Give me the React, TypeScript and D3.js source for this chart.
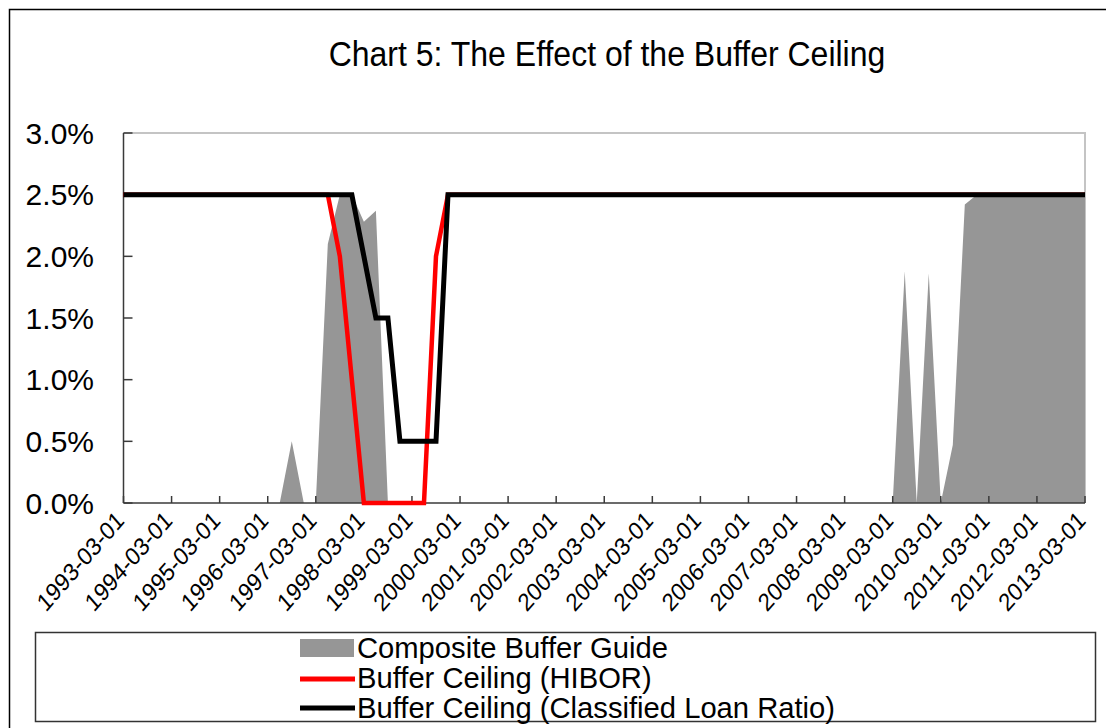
import React from "react";
import * as d3 from "d3";

// Quarterly categories 1993-03-01 .. 2013-03-01 (81 quarters)
const years = d3.range(1993, 2014);
const months = ["03", "06", "09", "12"];
const categories: string[] = years.flatMap((yr) =>
  months.map((m) => `${yr}-${m}-01`)
).filter((c) => c <= "2013-03-01");

// Tick labels (every 4th quarter)
const tickLabels = [
  "1993-03-01", "1994-03-01", "1995-03-01", "1996-03-01", "1997-03-01",
  "1998-03-01", "1999-03-01", "2000-03-01", "2001-03-01", "2002-03-01",
  "2003-03-01", "2004-03-01", "2005-03-01", "2006-03-01", "2007-03-01",
  "2008-03-01", "2009-03-01", "2010-03-01", "2011-03-01", "2012-03-01",
  "2013-03-01",
];

const yTicks = [0, 0.5, 1.0, 1.5, 2.0, 2.5, 3.0];

// Composite Buffer Guide (%)
const compositeGuide = [
  0, 0, 0, 0, 0, 0, 0, 0, 0, 0, 0, 0, 0, 0, // 1993Q1-1996Q2
  0.5, 0, 0, 2.1, 2.5, 2.5, 2.28, 2.37, // 1996Q3-1998Q2
  0, 0, 0, 0, 0, 0, 0, 0, 0, 0, 0, 0, 0, 0, 0, 0, 0, 0, 0, 0, 0, 0,
  0, 0, 0, 0, 0, 0, 0, 0, 0, 0, 0, 0, 0, 0, 0, 0, 0, 0, 0, 0, 0, // to 2009Q1
  1.88, 0, 1.86, 0, 0.47, 2.42,
  2.5, 2.5, 2.5, 2.5, 2.5, 2.5, 2.5, 2.5, 2.5, 2.5,
];

// Buffer Ceiling (HIBOR) (%)
const ceilingHibor = [
  2.5, 2.5, 2.5, 2.5, 2.5, 2.5, 2.5, 2.5, 2.5, 2.5, 2.5, 2.5, 2.5, 2.5,
  2.5, 2.5, 2.5, 2.5,
  2.0, 1.0, 0, 0, 0, 0, 0, 0, 2.0,
  2.5, 2.5, 2.5, 2.5, 2.5, 2.5, 2.5, 2.5, 2.5, 2.5, 2.5, 2.5, 2.5, 2.5,
  2.5, 2.5, 2.5, 2.5, 2.5, 2.5, 2.5, 2.5, 2.5, 2.5, 2.5, 2.5, 2.5, 2.5,
  2.5, 2.5, 2.5, 2.5, 2.5, 2.5, 2.5, 2.5, 2.5, 2.5, 2.5, 2.5, 2.5, 2.5,
  2.5, 2.5, 2.5, 2.5, 2.5, 2.5, 2.5, 2.5, 2.5, 2.5, 2.5, 2.5,
];

// Buffer Ceiling (Classified Loan Ratio) (%)
const ceilingClr = [
  2.5, 2.5, 2.5, 2.5, 2.5, 2.5, 2.5, 2.5, 2.5, 2.5, 2.5, 2.5, 2.5, 2.5,
  2.5, 2.5, 2.5, 2.5, 2.5, 2.5,
  2.0, 1.5, 1.5, 0.5, 0.5, 0.5, 0.5,
  2.5, 2.5, 2.5, 2.5, 2.5, 2.5, 2.5, 2.5, 2.5, 2.5, 2.5, 2.5, 2.5, 2.5,
  2.5, 2.5, 2.5, 2.5, 2.5, 2.5, 2.5, 2.5, 2.5, 2.5, 2.5, 2.5, 2.5, 2.5,
  2.5, 2.5, 2.5, 2.5, 2.5, 2.5, 2.5, 2.5, 2.5, 2.5, 2.5, 2.5, 2.5, 2.5,
  2.5, 2.5, 2.5, 2.5, 2.5, 2.5, 2.5, 2.5, 2.5, 2.5, 2.5, 2.5,
];

const seriesNames = [
  "Composite Buffer Guide",
  "Buffer Ceiling (HIBOR)",
  "Buffer Ceiling (Classified Loan Ratio)",
];

const FONT = "'Liberation Sans', Arial, sans-serif";

export default function App() {
  const W = 1106;
  const H = 728;
  const left = 123.5;
  const right = 1085;
  const top = 133;
  const bottom = 503;

  const x = d3.scalePoint<string>().domain(categories).range([left, right]);
  const y = d3.scaleLinear().domain([0, 3]).range([bottom, top]);

  const idx = (i: number) => x(categories[i]) as number;

  const area = d3
    .area<number>()
    .x((_, i) => idx(i))
    .y0(y(0))
    .y1((d) => y(d))(compositeGuide) as string;

  const line = d3
    .line<number>()
    .x((_, i) => idx(i))
    .y((d) => y(d));

  const axisColor = "#3a3a3a";

  return (
    <svg
      width={W}
      height={H}
      style={{ position: "absolute", left: 0, top: 0, background: "#fff" }}
      fontFamily={FONT}
    >
      <rect x={0} y={0} width={W} height={H} fill="#fff" />
      {/* outer chart border */}
      <rect x={9.5} y={9.5} width={W + 50} height={H + 50} fill="none" stroke="#000" strokeWidth={1.5} />

      {/* title */}
      <text transform="translate(607,66) scale(1,1.08)" textAnchor="middle" fontSize={32} fill="#000">
        Chart 5: The Effect of the Buffer Ceiling
      </text>

      {/* plot area border (top / right) */}
      <path
        d={`M${left},${top}H${right}V${bottom}`}
        fill="none"
        stroke="#c4c4c4"
        strokeWidth={2}
      />

      {/* composite buffer guide area */}
      <path d={area} fill="#969696" />

      {/* axes */}
      <line x1={left} x2={left} y1={top} y2={bottom} stroke={axisColor} strokeWidth={1.5} />
      <line x1={left} x2={right} y1={bottom} y2={bottom} stroke={axisColor} strokeWidth={1.5} />
      {yTicks.map((t) => (
        <g key={t}>
          <line x1={left} x2={left + 9} y1={y(t)} y2={y(t)} stroke={axisColor} strokeWidth={1.5} />
          <text
            x={94}
            y={y(t)}
            dy="0.36em"
            textAnchor="end"
            fontSize={30}
            fill="#000"
          >
            {t.toFixed(1) + "%"}
          </text>
        </g>
      ))}
      {tickLabels.map((lab) => {
        const tx = x(lab) as number;
        return (
          <g key={lab}>
            <line x1={tx} x2={tx} y1={bottom} y2={bottom - 7} stroke={axisColor} strokeWidth={1.5} />
            <text
              transform={`translate(${tx + 2},${bottom + 19}) scale(1,1.14) rotate(-45)`}
              textAnchor="end"
              fontSize={22}
              fill="#000"
            >
              {lab}
            </text>
          </g>
        );
      })}

      {/* lines */}
      <path
        d={line(ceilingHibor) as string}
        fill="none"
        stroke="#ff0000"
        strokeWidth={4.5}
        strokeLinejoin="miter"
      />
      <path
        d={line(ceilingClr) as string}
        fill="none"
        stroke="#000"
        strokeWidth={5}
        strokeLinejoin="miter"
      />

      {/* legend */}
      <rect x={35.5} y={632.5} width={1060} height={89} fill="#fff" stroke="#333" strokeWidth={1.5} />
      <rect x={300} y={639} width={54} height={18} fill="#969696" />
      <text x={357} y={658} fontSize={29.2} fill="#000">{seriesNames[0]}</text>
      <line x1={300} x2={355} y1={679} y2={679} stroke="#ff0000" strokeWidth={5} />
      <text x={357} y={688} fontSize={29.2} fill="#000">{seriesNames[1]}</text>
      <line x1={300} x2={355} y1={708} y2={708} stroke="#000" strokeWidth={5} />
      <text x={357} y={718} fontSize={29.2} fill="#000">{seriesNames[2]}</text>
    </svg>
  );
}
